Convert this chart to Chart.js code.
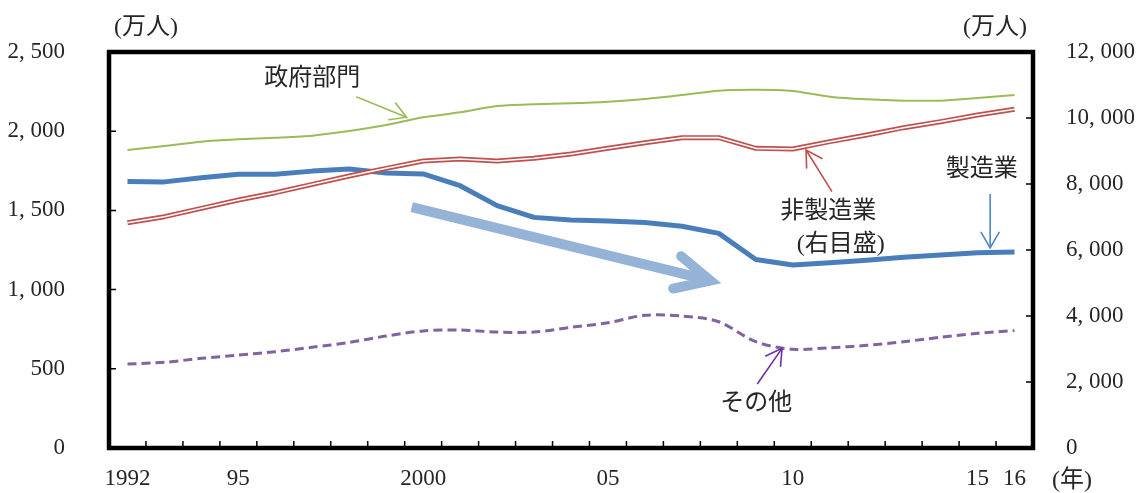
<!DOCTYPE html>
<html lang="ja">
<head>
<meta charset="utf-8">
<title>就業者数の推移</title>
<script src="https://cdn.jsdelivr.net/npm/chart.js@4/dist/chart.umd.min.js"></script>
<style>
  html, body { margin: 0; padding: 0; background: #fff; }
  #wrap { width: 1136px; height: 493px; }
</style>
</head>
<body>
<div id="wrap"><canvas id="chart" width="1136" height="493"></canvas></div>
<script>
/* ========================================
   Employment by sector, 1992-2016
   ======================================== */

const years = [
  "1992", "1993", "1994", "1995", "1996", "1997", "1998", "1999", "2000",
  "2001", "2002", "2003", "2004", "2005", "2006", "2007", "2008", "2009",
  "2010", "2011", "2012", "2013", "2014", "2015", "2016",
];
const yearTicks = [
  "1992", "", "", "95", "", "", "", "", "2000", "", "", "", "", "05",
  "", "", "", "", "10", "", "", "", "", "15", "16",
];

// left axis (万人)
const manufacturing = [
  1683, 1680, 1706, 1728, 1728, 1748, 1762, 1736, 1730, 1656, 1530, 1456,
  1439, 1433, 1423, 1400, 1355, 1190, 1155, 1170, 1185, 1204, 1218, 1233, 1238,
];
const government = [
  1882, 1907, 1934, 1949, 1959, 1972, 2001, 2039, 2088, 2119, 2159, 2170,
  2176, 2186, 2203, 2228, 2256, 2262, 2254, 2218, 2201, 2193, 2193, 2210, 2228,
];
const others = [
  530, 541, 566, 587, 608, 636, 667, 707, 739, 745, 732, 732,
  762, 791, 838, 833, 797, 671, 623, 633, 648, 671, 699, 724, 741,
];
// right axis (万人)
const nonManufacturing = [
  6827, 7010, 7263, 7515, 7737, 7990, 8242, 8475, 8697, 8758, 8697, 8778,
  8910, 9081, 9252, 9404, 9404, 9081, 9060, 9283, 9485, 9707, 9889, 10091, 10263,
];

const leftMax = 2500;
const leftStep = 500;
const rightMax = 12000;
const rightStep = 2000;

const NUM_FONT = "'Liberation Serif', 'Noto Sans CJK JP', serif";
const JP_FONT = "'Liberation Serif', 'Noto Sans CJK JP', sans-serif";
const TEXT = "#262626";

// callouts, placed in data space: [category index, value] on the given axis
const callouts = [
  { text: "政府部門", axis: "y", at: [5.0, 2330] },
  { text: "非製造業", axis: "y2", at: [18.96, 7152] },
  { text: "(右目盛)", axis: "y2", at: [19.3, 6152] },
  { text: "製造業", axis: "y", at: [23.11, 1755] },
  { text: "その他", axis: "y", at: [17.01, 278] },
];

const pointers = [
  { axis: "y", from: [6.19, 2218], to: [7.55, 2088], color: "#9bbb59", width: 1.6, head: 18, spread: 30 },
  { axis: "y2", from: [19.06, 7767], to: [18.36, 9030], color: "#c0504d", width: 1.6, head: 18, spread: 30 },
  { axis: "y", from: [23.34, 1604], to: [23.34, 1263], color: "#4a86c8", width: 1.6, head: 18, spread: 30 },
  { axis: "y", from: [17.04, 404], to: [17.71, 629], color: "#7030a0", width: 1.6, head: 18, spread: 30 },
];

const trendArrow = { axis: "y", from: [7.69, 1521], to: [15.77, 1057], color: "#95b3d7", width: 10, head: 38, spread: 26 };

function formatThousands(v) {
  return Number(v).toLocaleString("en-US").replace(",", ", ");
}

function toPixel(chart, axis, pt) {
  return {
    x: chart.scales.x.getPixelForValue(pt[0]),
    y: chart.scales[axis].getPixelForValue(pt[1]),
  };
}

// fixed axis sizes; vertical axes ask for no extra room above/below
function fixWidth(w) {
  return (scale) => {
    scale.width = w;
    scale.paddingTop = 0;
    scale.paddingBottom = 0;
  };
}

function drawArrow(ctx, chart, a) {
  const p0 = toPixel(chart, a.axis, a.from);
  const p1 = toPixel(chart, a.axis, a.to);
  const ang = Math.atan2(p1.y - p0.y, p1.x - p0.x);
  const back = ang + Math.PI;
  const sp = (a.spread * Math.PI) / 180;
  const arm1 = { x: p1.x + a.head * Math.cos(back - sp), y: p1.y + a.head * Math.sin(back - sp) };
  const arm2 = { x: p1.x + a.head * Math.cos(back + sp), y: p1.y + a.head * Math.sin(back + sp) };
  const shaftEnd = a.width > 4
    ? { x: p1.x - a.width * Math.cos(ang), y: p1.y - a.width * Math.sin(ang) }
    : p1;

  ctx.save();
  ctx.strokeStyle = a.color;
  ctx.lineWidth = a.width;
  ctx.lineCap = "butt";
  ctx.beginPath();
  ctx.moveTo(p0.x, p0.y);
  ctx.lineTo(shaftEnd.x, shaftEnd.y);
  ctx.stroke();

  ctx.lineCap = "round";
  ctx.lineJoin = "miter";
  ctx.beginPath();
  ctx.moveTo(arm1.x, arm1.y);
  ctx.lineTo(p1.x, p1.y);
  ctx.lineTo(arm2.x, arm2.y);
  ctx.stroke();
  ctx.restore();
}

// frame, inward tick marks, unit labels, callouts and pointers
const decorations = {
  id: "decorations",
  beforeDatasetsDraw(chart) {
    drawArrow(chart.ctx, chart, trendArrow);
  },
  afterDatasetsDraw(chart) {
    const ctx = chart.ctx;
    const { left, right, top, bottom } = chart.chartArea;
    const x = chart.scales.x;
    const y = chart.scales.y;
    const y2 = chart.scales.y2;

    pointers.forEach((p) => drawArrow(ctx, chart, p));

    ctx.save();
    ctx.fillStyle = TEXT;
    ctx.font = `24px ${JP_FONT}`;
    ctx.textAlign = "center";
    ctx.textBaseline = "middle";
    callouts.forEach((c) => {
      const p = toPixel(chart, c.axis, c.at);
      ctx.fillText(c.text, p.x, p.y);
    });

    ctx.fillText("(万人)", left + 37, 28);
    ctx.fillText("(万人)", right - 38, 28);
    ctx.fillText("(年)", right + 39, 481);
    ctx.restore();

    ctx.save();
    ctx.strokeStyle = "#000";
    ctx.lineWidth = 1.5;
    ctx.beginPath();
    for (let i = 1; i < years.length; i++) {
      const px = (x.getPixelForValue(i - 1) + x.getPixelForValue(i)) / 2;
      ctx.moveTo(px, bottom);
      ctx.lineTo(px, bottom - 7);
    }
    y.ticks.forEach((t, i) => {
      const py = y.getPixelForTick(i);
      ctx.moveTo(left, py);
      ctx.lineTo(left + 7, py);
    });
    y2.ticks.forEach((t, i) => {
      const py = y2.getPixelForTick(i);
      ctx.moveTo(right, py);
      ctx.lineTo(right - 7, py);
    });
    ctx.stroke();

    ctx.lineWidth = 4.5;
    ctx.strokeRect(left, top, right - left, bottom - top);
    ctx.restore();
  },
};

const ctx = document.getElementById("chart").getContext("2d");

new Chart(ctx, {
  type: "line",
  data: {
    labels: years,
    datasets: [
      {
        label: "非製造業",
        data: nonManufacturing,
        yAxisID: "y2",
        borderColor: "#ffffff",
        borderWidth: 1.6,
        order: 0,
      },
      {
        label: "非製造業",
        data: nonManufacturing,
        yAxisID: "y2",
        borderColor: "#c0504d",
        borderWidth: 5,
        order: 1,
      },
      {
        label: "政府部門",
        data: government,
        yAxisID: "y",
        borderColor: "#9bbb59",
        borderWidth: 2,
        tension: 0.25,
        order: 2,
      },
      {
        label: "その他",
        data: others,
        yAxisID: "y",
        borderColor: "#8064a2",
        borderWidth: 3,
        borderDash: [9, 5],
        tension: 0.3,
        order: 3,
      },
      {
        label: "製造業",
        data: manufacturing,
        yAxisID: "y",
        borderColor: "#4a7ebb",
        borderWidth: 5,
        order: 4,
      },
    ],
  },
  options: {
    responsive: false,
    animation: false,
    layout: { padding: { top: 52, left: 0, right: 0, bottom: 0 } },
    elements: {
      point: { radius: 0, hoverRadius: 0 },
      line: { borderJoinStyle: "round", borderCapStyle: "butt" },
    },
    plugins: {
      legend: { display: false },
      tooltip: { enabled: false },
    },
    scales: {
      x: {
        offset: true,
        grid: { display: false, offset: true },
        border: { display: false },
        afterFit: (scale) => { scale.height = 45; },
        ticks: {
          autoSkip: false,
          maxRotation: 0,
          padding: 9,
          color: TEXT,
          font: { family: NUM_FONT, size: 23 },
          callback: (val, i) => yearTicks[i],
        },
      },
      y: {
        position: "left",
        min: 0,
        max: leftMax,
        grid: { display: false },
        border: { display: false },
        afterFit: fixWidth(109),
        ticks: {
          stepSize: leftStep,
          padding: 36,
          color: TEXT,
          font: { family: NUM_FONT, size: 23 },
          callback: (val) => formatThousands(val),
        },
      },
      y2: {
        position: "right",
        min: 0,
        max: rightMax,
        grid: { display: false },
        border: { display: false },
        afterFit: fixWidth(103),
        ticks: {
          stepSize: rightStep,
          padding: 25,
          color: TEXT,
          font: { family: NUM_FONT, size: 23 },
          callback: (val) => formatThousands(val),
        },
      },
    },
  },
  plugins: [decorations],
});
</script>
</body>
</html>
